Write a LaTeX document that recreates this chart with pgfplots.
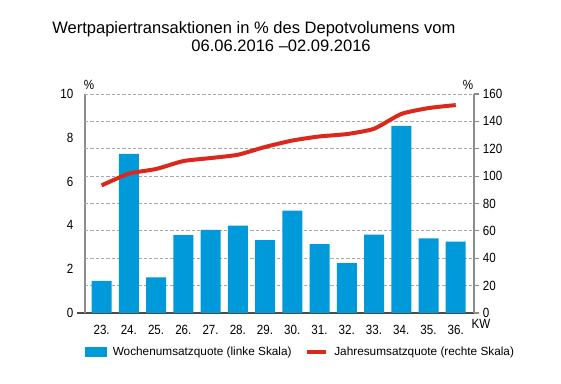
\documentclass[border=0pt]{standalone}
\usepackage{fontspec}
\setmainfont{Liberation Sans}
\newfontfamily\narrowfont[FakeStretch=0.87]{Liberation Sans}
\usepackage{pgfplots}
\pgfplotsset{compat=1.18}
\definecolor{barblue}{HTML}{0099D9}
\definecolor{linered}{HTML}{DA291C}
\definecolor{gridgray}{HTML}{A8A8A8}
\definecolor{axgray}{HTML}{8C8C8C}
\begin{document}
\begin{tikzpicture}
\useasboundingbox (-63.75pt,-53.25pt) rectangle (357pt,234.75pt);
\pgfplotsset{
 common/.style={
  scale only axis, width=291.75pt, height=164.25pt, at={(0,0)}, anchor=south west,
  xmin=-0.61, xmax=13.67,
  ticklabel style={font=\narrowfont\fontsize{10}{11}\selectfont},
  /pgf/number format/assume math mode=true,
 }
}
\begin{axis}[common, ymin=0, ymax=10,
  axis y line*=left, axis x line*=bottom,
  y axis line style={axgray, line width=1.5pt},
  x axis line style={black!70, line width=1.1pt, shorten <=-6pt},
  xtick={0,...,13},
  xticklabels={23.,24.,25.,26.,27.,28.,29.,30.,31.,32.,33.,34.,35.,36.},
  xtick style={draw=none},
  xticklabel style={inner sep=0pt, yshift=-4.5pt},
  ytick={0,2,4,6,8,10}, ytick style={draw=none},
  yticklabel style={inner sep=0pt, xshift=-8.5pt},
  extra y ticks={1.25,2.5,3.75,5,6.25,7.5,8.75,10},
  extra y tick labels={},
  extra y tick style={grid=major, major grid style={gridgray, dash pattern=on 2.5pt off 1.5pt, line width=0.6pt},
    tick style={gridgray, dash pattern=on 2.5pt off 1.5pt, line width=0.6pt}, major tick length=6pt, tick align=outside},
  ybar, bar width=15pt]
\addplot[fill=barblue, draw=none] coordinates {
(0,1.47) (1,7.27) (2,1.63) (3,3.56) (4,3.79) (5,3.99) (6,3.33)
(7,4.67) (8,3.15) (9,2.28) (10,3.58) (11,8.54) (12,3.41) (13,3.26)};
\end{axis}
\begin{axis}[common, ymin=0, ymax=160,
  axis y line*=right, axis x line=none,
  ytick={0,20,...,160},
  y axis line style={axgray, line width=1.1pt},
  ytick style={axgray, line width=0.8pt}, major tick length=4pt, tick align=outside,
  yticklabel style={inner sep=0pt, xshift=2.5pt},
  legend columns=2,
  legend cell align=left,
  legend style={draw=none, fill=none, inner sep=0pt, at={(0,-0.178)}, anchor=west,
    font=\fontsize{8.85}{10}\selectfont,
    nodes={inner sep=0pt},
    /tikz/every odd column/.append style={column sep=4.5pt},
    /tikz/every even column/.append style={column sep=10pt}},
  ]
\addlegendimage{legend image code/.code={\fill[barblue] (0pt,-3.5pt) rectangle (15.75pt,3.5pt);}}
\addlegendentry{Wochenumsatzquote (linke Skala)}
\addplot[linered, line width=3pt, smooth, tension=0.35,
  legend image code/.code={\draw[linered, line width=3pt] (0pt,0pt) -- (14.5pt,0pt);}]
 coordinates {
(0,93.2) (1,101.8) (2,105.2) (3,111) (4,113.2) (5,115.6) (6,121.3)
(7,126) (8,129) (9,130.7) (10,134.6) (11,145.4) (12,149.7) (13,151.9)};
\addlegendentry{Jahresumsatzquote (rechte Skala)}
\end{axis}
\node[anchor=base west, font=\fontsize{12.4}{14}\selectfont, inner sep=0pt] at (-24.75pt,209.25pt) {Wertpapiertransaktionen in \% des Depotvolumens vom};
\node[anchor=base east, font=\fontsize{12.4}{14}\selectfont, inner sep=0pt] at (214.5pt,196pt) {06.06.2016 –02.09.2016};
\node[font=\narrowfont\fontsize{10}{11}\selectfont, inner sep=0pt] at (3pt,171pt) {\%};
\node[font=\narrowfont\fontsize{10}{11}\selectfont, inner sep=0pt] at (287.25pt,171pt) {\%};
\node[font=\narrowfont\fontsize{10}{11}\selectfont, inner sep=0pt] at (297pt,-8.5pt) {KW};
\end{tikzpicture}
\end{document}
